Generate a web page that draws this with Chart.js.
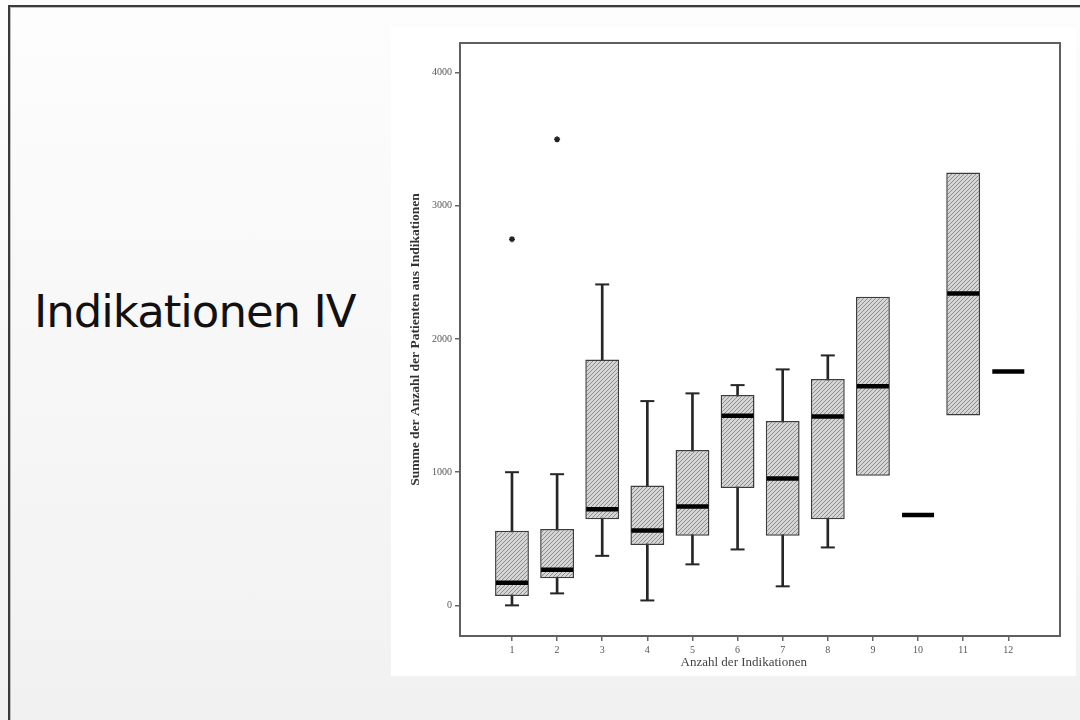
<!DOCTYPE html>
<html>
<head>
<meta charset="utf-8">
<script src="https://cdn.jsdelivr.net/npm/chart.js@4/dist/chart.umd.min.js"></script>
<style>
  html, body { margin: 0; padding: 0; }
  body {
    width: 1080px; height: 720px; overflow: hidden; position: relative;
    background: linear-gradient(to bottom, #fdfdfd 0%, #f7f7f7 50%, #f1f1f1 100%);
  }
  #frame {
    position: absolute; left: 8px; top: 5px; width: 1100px; height: 740px;
    border-top: 2px solid #3a3a3a; border-left: 2px solid #3a3a3a;
    box-shadow: inset 1px 1px 0 #bdbdbd;
  }
  #title {
    position: absolute; left: 34px; top: 289px;
    font-family: "DejaVu Sans", Verdana, sans-serif; font-size: 45px; line-height: 45px;
    letter-spacing: -1px; color: #111; white-space: nowrap;
  }
  #box {
    position: absolute; left: 391px; top: 27px; width: 685px; height: 649px; background: #fff;
  }
  canvas { display: block; }
</style>
</head>
<body>
<div id="frame"></div>
<div id="title">Indikationen IV</div>
<div id="box"><canvas id="c" width="685" height="649"></canvas></div>
<script>
// ---- data ----
const categories = [1, 2, 3, 4, 5, 6, 7, 8, 9, 10, 11, 12];
const whiskerLow  = [0,    90,  372,  37,  308,  420,  143,  435,  null, null, null, null];
const quartile1   = [70,   203, 646,  453, 523,  881,  523,  646,  973,  null, 1426, null];
const medians     = [170,  267, 721,  563, 743,  1424, 953,  1419, 1646, 678,  2342, 1757];
const quartile3   = [560,  573, 1847, 901, 1166, 1579, 1384, 1699, 2317, null, 3251, null];
const whiskerHigh = [1000, 985, 2410, 1534, 1592, 1654, 1772, 1877, null, null, null, null];
const outlierCategory = [1, 2];
const outlierValue    = [2750, 3500];
const yTickValues = [0, 1000, 2000, 3000, 4000];
const xTickLabels = ['1','2','3','4','5','6','7','8','9','10','11','12'];
const xTitle = 'Anzahl der Indikationen';
const yTitle = 'Summe der Anzahl der Patienten aus Indikationen';

// ---- derived datasets ----
const boxData = [], whiskerData = [], capData = [], medianData = [];
categories.forEach((c, i) => {
  if (quartile1[i] != null && quartile3[i] != null) boxData.push({x: c, y: [quartile1[i], quartile3[i]]});
  if (whiskerLow[i] != null && whiskerHigh[i] != null) {
    whiskerData.push({x: c, y: [whiskerLow[i], whiskerHigh[i]]});
    capData.push({x: c, y: whiskerLow[i]});
    capData.push({x: c, y: whiskerHigh[i]});
  }
  if (medians[i] != null) medianData.push({x: c, y: medians[i]});
});
const outlierData = outlierCategory.map((c, i) => ({x: c, y: outlierValue[i]}));

// hatch pattern
const ctx = document.getElementById('c').getContext('2d');
const tile = document.createElement('canvas');
tile.width = 4; tile.height = 4;
const t = tile.getContext('2d');
t.fillStyle = '#d6d6d6'; t.fillRect(0, 0, 4, 4);
t.strokeStyle = '#8c8c8c'; t.lineWidth = 1;
t.beginPath();
t.moveTo(0, 4); t.lineTo(4, 0);
t.moveTo(-1, 1); t.lineTo(1, -1);
t.moveTo(3, 5); t.lineTo(5, 3);
t.stroke();
const hatch = ctx.createPattern(tile, 'repeat');

const framePlugin = {
  id: 'frame',
  afterDraw(chart) {
    const a = chart.chartArea, g = chart.ctx;
    g.save();
    g.strokeStyle = '#5f5f5f'; g.lineWidth = 2;
    g.strokeRect(a.left, a.top, a.right - a.left, a.bottom - a.top);
    g.restore();
  }
};

const serif = '"Liberation Serif", "Times New Roman", serif';
function noPad(scale) { scale.paddingTop = 0; scale.paddingBottom = 0; scale.paddingLeft = 0; scale.paddingRight = 0; }

new Chart(ctx, {
  type: 'bar',
  data: {
    datasets: [
      { type: 'bar', label: 'whisker', data: whiskerData, grouped: false, barThickness: 2,
        backgroundColor: '#262626', borderWidth: 0, order: 4 },
      { type: 'bar', label: 'box', data: boxData, grouped: false,
        barPercentage: 0.75, categoryPercentage: 1,
        backgroundColor: hatch, borderColor: '#3c3c3c', borderWidth: 1.5, borderSkipped: false, order: 3 },
      { type: 'scatter', label: 'caps', data: capData, pointStyle: 'line', pointRadius: 7,
        borderColor: '#262626', borderWidth: 2, order: 2 },
      { type: 'scatter', label: 'median', data: medianData, pointStyle: 'line', pointRadius: 16,
        borderColor: '#000', borderWidth: 4.5, order: 1 },
      { type: 'scatter', label: 'outlier', data: outlierData, pointStyle: 'star', pointRadius: 3,
        borderColor: '#222', backgroundColor: '#222', borderWidth: 1.5, order: 0 }
    ]
  },
  options: {
    responsive: false,
    devicePixelRatio: 1,
    animation: false,
    events: [],
    layout: { autoPadding: false, padding: { left: 0, top: 16, right: 16, bottom: 0 } },
    plugins: { legend: { display: false }, tooltip: { enabled: false } },
    scales: {
      x: {
        type: 'linear', min: -0.152, max: 13.146, offset: false,
        afterBuildTicks(scale) { scale.ticks = categories.map(v => ({value: v})); },
        afterFit(scale) { scale.height = 40; noPad(scale); },
        ticks: {
          autoSkip: false, maxRotation: 0, padding: 3,
          font: { family: serif, size: 10 }, color: '#555',
          callback(v) { const i = categories.indexOf(v); return i >= 0 ? xTickLabels[i] : ''; }
        },
        grid: { display: true, drawOnChartArea: false, drawTicks: true, tickLength: 5,
                color: '#666', lineWidth: 1.5, offset: false },
        border: { display: false },
        title: { display: true, text: xTitle + '          ', font: { family: serif, size: 13 }, color: '#444',
                 padding: { top: 0, bottom: 6 } }
      },
      y: {
        type: 'linear', min: -230, max: 4223,
        afterBuildTicks(scale) { scale.ticks = yTickValues.map(v => ({value: v})); },
        afterFit(scale) { scale.width = 69; noPad(scale); },
        ticks: { padding: 3, font: { family: serif, size: 10 }, color: '#555',
                 callback(v) { return String(v); } },
        grid: { display: true, drawOnChartArea: false, drawTicks: true, tickLength: 5,
                color: '#666', lineWidth: 1.5 },
        border: { display: false },
        title: { display: true, text: yTitle, font: { family: serif, size: 13.5, weight: 'bold' }, color: '#333',
                 padding: { top: 16, bottom: 0 } }
      }
    }
  },
  plugins: [framePlugin]
});
</script>
</body>
</html>
